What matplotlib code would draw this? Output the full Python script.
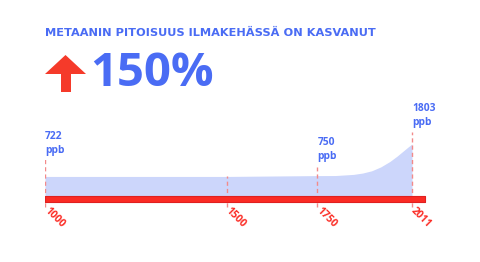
import matplotlib
matplotlib.use("Agg")
import matplotlib.pyplot as plt
from matplotlib.patches import Polygon

# ---- data ----
years = [1000, 1500, 1750, 1800, 1850, 1875, 1900, 1925, 1950, 1970, 1990, 2000, 2011]
ppb = [722, 722, 750, 752, 790, 835, 910, 1040, 1220, 1400, 1600, 1700, 1803]
marked_years = [1000, 1500, 1750, 2011]
label_years = [1000, 1750, 2011]
label_values = [722, 750, 1803]
tick_labels = ["1000", "1500", "1750", "2011"]
title = "METAANIN PITOISUUS ILMAKEHÄSSÄ ON KASVANUT"
headline = "150%"
unit = "ppb"

BLUE = "#4a6cf4"
RED = "#fb2b24"
FILL = "#ccd6fb"
DASH = "#f38a8a"

W, H = 480, 262
fig = plt.figure(figsize=(W / 100, H / 100), dpi=100)
plt.rcParams['font.family'] = ['Open Sans', 'DejaVu Sans']

px_left, px_right = 45, 45 + 0.363 * (2050 - 1000)
px_top, px_bot = 90, 215
ax = fig.add_axes([px_left / W, 1 - px_bot / H, (px_right - px_left) / W, (px_bot - px_top) / H])
scale = 0.030  # px per ppb
base = 70
ymin = base - (px_bot - 196) / scale
ymax = base + (196 - px_top) / scale
ax.set_xlim(1000, 2050)
ax.set_ylim(ymin, ymax)
ax.axis("off")

ax.fill_between(years, ppb, base, color=FILL, lw=0, zorder=1)
bar_h = 6 / scale
ax.fill_between([1000, 2046], [base, base], [base - bar_h, base - bar_h],
                color=RED, lw=0.8, edgecolor="#e02020", zorder=3)

line_tops = {1000: 1330, 1500: 722, 1750: 1030, 2011: 2200}
line_bottom = base - 11 / scale
for yr in marked_years:
    ax.plot([yr, yr], [line_bottom, line_tops[yr]], color=DASH, lw=1.0,
            ls=(0, (3, 2.2)), zorder=2)

for yr, lab in zip(marked_years, tick_labels):
    ax.annotate(lab, xy=(yr, line_bottom), xytext=(0.5, -1.5), textcoords="offset points",
                color=RED, fontsize=7.5, fontweight="bold", rotation=-45,
                rotation_mode="anchor", ha="left", va="center", zorder=4)

label_pad = {1000: 1.5, 1750: 3.5, 2011: 3.0}
for yr, v in zip(label_years, label_values):
    ax.annotate(f"{v}\n{unit}", xy=(yr, line_tops[yr]), xytext=(0, label_pad[yr]),
                textcoords="offset points", color=BLUE, fontsize=7.4,
                fontweight="bold", ha="left", va="bottom", linespacing=1.4)

fig.text(45 / W, 1 - 33 / H, title, color=BLUE, fontsize=8.2, fontweight="bold",
         ha="left", va="center", family="DejaVu Sans")
fig.text(90 / W, 1 - 73 / H, headline, color=BLUE, fontsize=34, fontweight="bold",
         ha="left", va="center")

pts = [(45, 74), (65.5, 55), (86, 74), (71, 74), (71, 92), (61, 92), (61, 74)]
arrow = Polygon([(x / W, 1 - y / H) for x, y in pts], closed=True,
                transform=fig.transFigure, color="#f53a2a", lw=0)
fig.patches.append(arrow)

fig.savefig("out.png", dpi=100, facecolor="white")
